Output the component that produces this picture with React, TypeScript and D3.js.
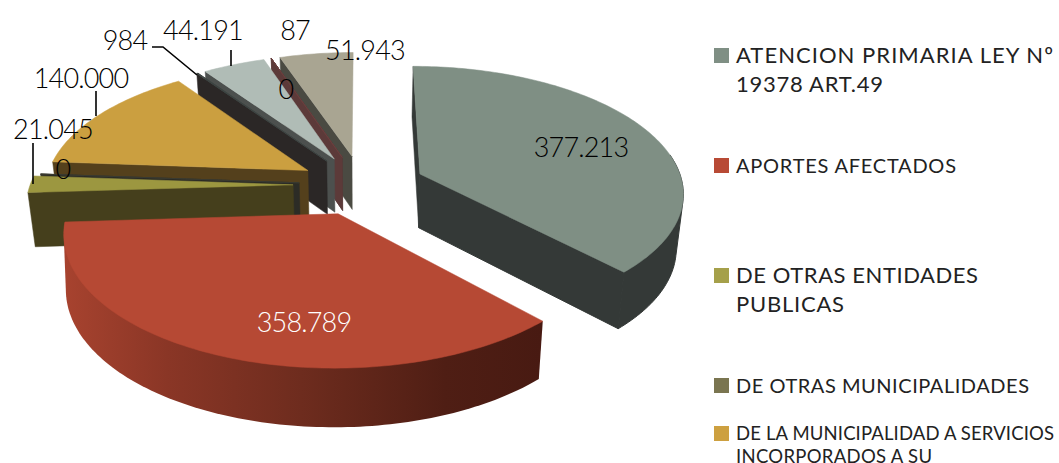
import React from 'react';
import * as d3 from 'd3';

const legendLines = [
  ['ATENCION PRIMARIA LEY Nº', '19378 ART.49'],
  ['APORTES AFECTADOS'],
  ['DE OTRAS ENTIDADES', 'PUBLICAS'],
  ['DE OTRAS MUNICIPALIDADES'],
  ['DE LA MUNICIPALIDAD A SERVICIOS', 'INCORPORADOS A SU'],
];
const values = [377213, 358789, 21045, 0, 140000, 984, 44191, 87, 0, 51943];
const labels = ['377.213', '358.789', '21.045', '0', '140.000', '984', '44.191', '87', '0', '51.943'];
const topColors = ['#7f8f84', '#b64934', '#9c9740', '#3a3a30', '#cb9f40', '#3d4442', '#b0bcb6', '#6a3f3e', '#5a3a38', '#a9a592'];
const wallColors = ['#343937', '#4a1a12', '#453f1c', '#2c2c26', '#54401c', '#2b2726', '#4c504e', '#5c3a39', '#4a3a38', '#4a4a42'];
const legendSwatch = ['#7f8f84', '#b84a35', '#a5a04a', '#7a7550', '#cda040'];
const explodeBy = [0.24, 0.24, 0.262, 0.24, 0.24, 0.24, 0.24, 0.24, 0.24, 0.24];

const CX = 362, CY = 185, A = 263, B = 125, PERSP = 0.135, DEPTH = 54, SHRINK = 0.978;
type P = { x: number; y: number; w: number };
function proj(a: number, b: number): P {
  const w = 1 / (1 - PERSP * b);
  return { x: CX + A * a * w, y: CY + B * b * w, w };
}
function low(p: P, s = SHRINK): P {
  return { x: CX + (p.x - CX) * s, y: p.y + DEPTH * Math.sqrt(p.w), w: p.w };
}
const pie = d3.pie<number>().sort(null).startAngle(0).endAngle(2 * Math.PI);
const arcs = pie(values);
const line = d3.line<{ x: number; y: number }>().x(d => d.x).y(d => d.y);

function sliceGeo(start: number, end: number, explode: number) {
  const mid = (start + end) / 2;
  const ox = explode * Math.sin(mid), oy = -explode * Math.cos(mid);
  const pt = (t: number, r = 1) => proj(ox + r * Math.sin(t), oy - r * Math.cos(t));
  const apex = pt(0, 0);
  const n = Math.max(2, Math.ceil((end - start) / 0.02));
  const ts = d3.range(n + 1).map(i => start + (end - start) * i / n);
  const rim = ts.map(t => pt(t));
  const fl = (80 * Math.PI) / 180, fh = (276 * Math.PI) / 180;
  const outer = ts.filter(t => t >= fl && t <= fh).map(t => pt(t));
  return { apex, rim, outer };
}

const paintOrder = [0, 9, 8, 7, 6, 5, 4, 3, 2, 1];
// Annotation layout
const labelPos = [[581, 146], [304, 321], [53, 128], [63, 168], [81, 77], [125, 39], [203, 29], [295, 29], [286, 88], [365, 49]];
const leaders = [[[152, 47], [163, 47], [197, 75]], [[231, 50], [231, 66]], [[96, 91], [96, 116]], [[33, 143], [33, 184]]];
const legendY = [55.5, 165.5, 275.5, 385.5, 433.5];
const legendSize = [22, 20, 22, 20, 18.5];
const legendGap = [29, 0, 29, 0, 23];
const legendWidths = [[317, 147], [220], [242, 108], [293], [318, 196]];

const FONT = "Lato, 'Open Sans', sans-serif";

export default function App() {
  return (
    <svg width={1059} height={463} viewBox="0 0 1059 463" style={{ position: 'absolute', left: 0, top: 0, display: 'block', background: '#fff', fontFamily: FONT }}>
      <defs>
        <linearGradient id="redSide" gradientUnits="userSpaceOnUse" x1={62} x2={541} y1={0} y2={0}>
          <stop offset="0" stopColor="#a8432f" />
          <stop offset="0.22" stopColor="#8a3626" />
          <stop offset="0.5" stopColor="#6e2c1e" />
          <stop offset="0.8" stopColor="#4f1e14" />
          <stop offset="1" stopColor="#481a12" />
        </linearGradient>
      </defs>
      {paintOrder.map(i => {
        const a = arcs[i];
        const g = sliceGeo(a.startAngle, a.endAngle, explodeBy[i]);
        const startRim = g.rim[0], endRim = g.rim[g.rim.length - 1];
        const startWall = [g.apex, startRim, low(startRim), low(g.apex)];
        const endWall = [g.apex, endRim, low(endRim), low(g.apex)];
        const outerPts = i === 0 || i === 1 ? g.outer : [];
        const hullPts = outerPts.length > 1
          ? [...outerPts, ...outerPts.map(p => low(p, i === 1 && p.x < CX ? 0.993 : SHRINK))].map(p => [p.x, p.y] as [number, number])
          : null;
        const hull = hullPts ? d3.polygonHull(hullPts) : null;
        const top = [g.apex, ...g.rim];
        const wall = wallColors[i];
        const thin = i === 3 || i === 5 || i === 7 || i === 8;
        return (
          <g key={i}>
            {i !== 1 && <path d={line(startWall)! + 'Z'} fill={wall} stroke={wall} strokeWidth={0.5} />}
            {i === 0 && <path d={line(endWall)! + 'Z'} fill={wall} stroke={wall} strokeWidth={1} />}
            {hull && <path d={'M' + hull.join('L') + 'Z'} fill={i === 1 ? 'url(#redSide)' : wall} stroke={i === 1 ? 'none' : wall} strokeWidth={1} />}
            <path d={line(top)! + 'Z'} fill={topColors[i]} stroke={topColors[i]} strokeWidth={thin ? 1 : 0.5} />
          </g>
        );
      })}
      {leaders.map((l, i) => (
        <path key={i} d={line(l.map(p => ({ x: p[0], y: p[1] })))!} fill="none" stroke="#000" strokeWidth={1.6} />
      ))}
      {labels.map((t, i) => (
        <text key={i} x={labelPos[i][0]} y={labelPos[i][1]} textAnchor="middle" dominantBaseline="central" fontSize={27} fontWeight={300} letterSpacing={-0.8} fill={i === 1 ? '#fff' : '#000'}>{t}</text>
      ))}
      {legendLines.map((lines, i) => (
        <g key={i}>
          <rect x={714} y={legendY[i] - 7.5} width={15} height={15} fill={legendSwatch[i]} />
          {lines.map((s, j) => (
            <text key={j} x={736} y={legendY[i] - 1 + j * legendGap[i]} dominantBaseline="central" fontSize={legendSize[i]} textLength={legendWidths[i][j]} lengthAdjust="spacing" fontWeight={400} fill="#222">{s}</text>
          ))}
        </g>
      ))}
    </svg>
  );
}
